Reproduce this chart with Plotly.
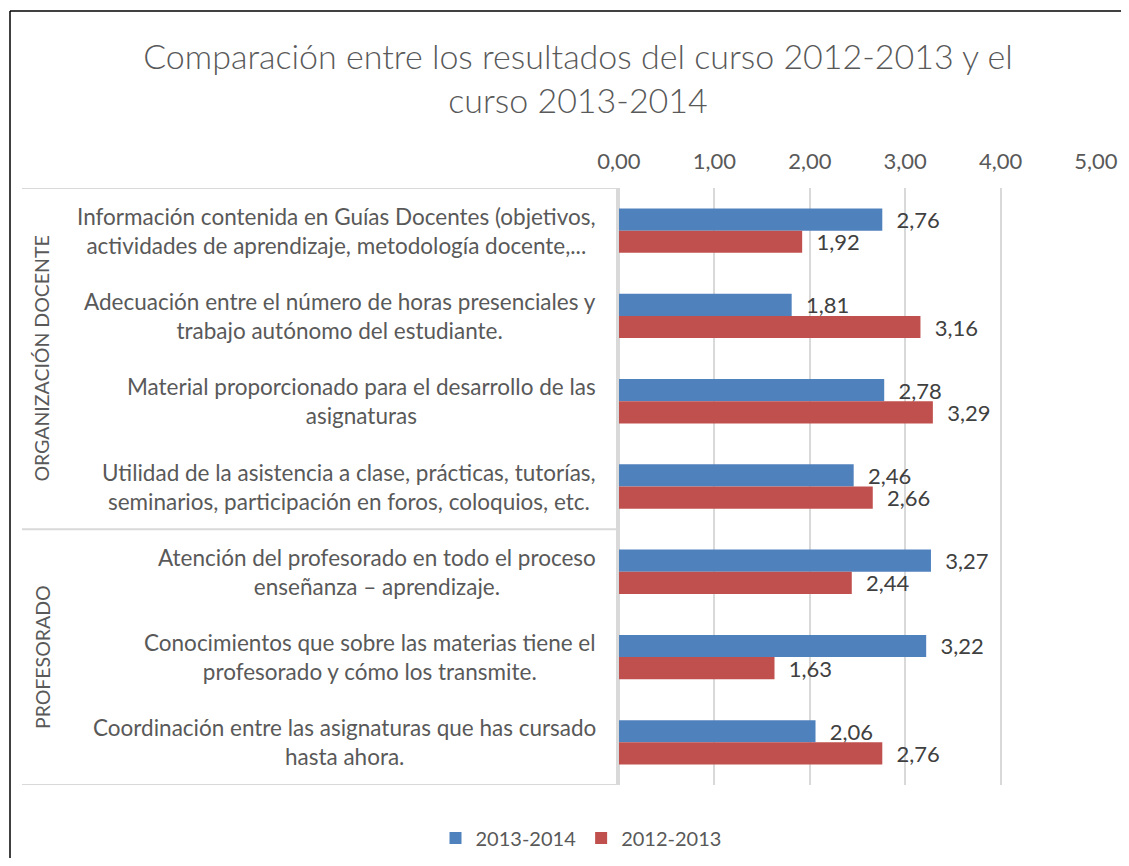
import plotly.graph_objects as go

categories = [
    "Información contenida en Guías Docentes (objetivos,<br>actividades de aprendizaje, metodología docente,...",
    "Adecuación entre el número de horas presenciales y<br>trabajo autónomo del estudiante.",
    "Material proporcionado para el desarrollo de las<br>asignaturas",
    "Utilidad de la asistencia a clase, prácticas, tutorías,<br>seminarios, participación en foros, coloquios, etc.",
    "Atención del profesorado en todo el proceso<br>enseñanza – aprendizaje.",
    "Conocimientos que sobre las materias tiene el<br>profesorado y cómo los transmite.",
    "Coordinación entre las asignaturas que has cursado<br>hasta ahora.",
]
groups = ["ORGANIZACIÓN DOCENTE", "PROFESORADO"]
group_sizes = [4, 3]

curso_1314 = [2.76, 1.81, 2.78, 2.46, 3.27, 3.22, 2.06]
curso_1213 = [1.92, 3.16, 3.29, 2.66, 2.44, 1.63, 2.76]

x_ticks = [0, 1, 2, 3, 4, 5]

BLUE = "#4F81BD"
RED = "#C0504D"
GREY = "#595959"
FONT = "Lato"

# the page has an 8px body margin, so the figure is a bit smaller than the window
OFF = 8
W, H = 1129 - 2 * OFF, 866 - 2 * OFF
# plot area edges as seen on screen
PX0, PX1, PY0, PY1 = 619, 1096, 188, 785
L, R, T, B = PX0 - OFF, W - (PX1 - OFF), PY0 - OFF, H - (PY1 - OFF)
pw = W - L - R
ph = H - T - B


def px_x(x):
    return (x - PX0) / pw


def px_y(y):
    return (PY1 - y) / ph


ids = list(range(len(categories)))

fig = go.Figure()
for vals, name, col in [(curso_1314, "2013-2014", BLUE), (curso_1213, "2012-2013", RED)]:
    fig.add_trace(go.Bar(
        y=ids, x=vals, name=name, orientation="h",
        marker=dict(color=col, line=dict(width=0)),
        texttemplate="\u00a0\u00a0%{x:.2f}", textposition="outside",
        textfont=dict(size=22, color="#404040", family=FONT),
        constraintext="none", cliponaxis=False,
    ))

annotations = []
for i, c in enumerate(categories):
    annotations.append(dict(
        x=px_x(598), xref="paper", y=i, yref="y", text=c,
        xanchor="right", yanchor="middle", align="center", showarrow=False,
        font=dict(size=22.5, color=GREY, family=FONT),
    ))

start = 0
for g, n in zip(groups, group_sizes):
    annotations.append(dict(
        x=px_x(42), xref="paper", y=start + (n - 1) / 2, yref="y", text=g,
        textangle=-90, xanchor="center", yanchor="middle", showarrow=False,
        font=dict(size=19.5, color=GREY, family=FONT),
    ))
    start += n

shapes = []
line_col = "#D9D9D9"
for yv in [-0.5, group_sizes[0] - 0.5, len(categories) - 0.5]:
    shapes.append(dict(type="line", xref="paper", yref="y",
                       x0=px_x(22), x1=px_x(617), y0=yv, y1=yv,
                       line=dict(color=line_col, width=2)))
shapes.append(dict(type="line", xref="paper", yref="y",
                   x0=px_x(617), x1=px_x(617), y0=-0.5, y1=len(categories) - 0.5,
                   line=dict(color=line_col, width=2)))
# outer chart frame (left and top edges; the rest runs off the picture)
fig_right = (W - L) / pw
fig_bottom = -B / ph
shapes.append(dict(type="line", xref="paper", yref="paper",
                   x0=px_x(10), x1=px_x(10), y0=px_y(11), y1=fig_bottom,
                   line=dict(color="black", width=1.5)))
shapes.append(dict(type="line", xref="paper", yref="paper",
                   x0=px_x(10), x1=fig_right, y0=px_y(11), y1=px_y(11),
                   line=dict(color="black", width=1.5)))

fig.update_layout(
    width=W, height=H,
    margin=dict(l=L, r=R, t=T, b=B, autoexpand=False),
    paper_bgcolor="white", plot_bgcolor="white",
    separators=",.",
    font=dict(family=FONT, color=GREY, size=20),
    title=dict(
        text="Comparación entre los resultados del curso 2012-2013 y el<br>curso 2013-2014",
        x=(578 - OFF) / W, xanchor="center", xref="container",
        y=1 - (69 - OFF) / H, yanchor="middle", yref="container",
        font=dict(size=34, color=GREY, family=FONT, weight=300),
    ),
    barmode="group", bargap=0.48, bargroupgap=0,
    xaxis=dict(
        side="top", range=[0, 5], tickvals=x_ticks, tickformat=".2f",
        showgrid=True, gridcolor="#D9D9D9", gridwidth=2,
        zeroline=True, zerolinecolor="#D9D9D9", zerolinewidth=2,
        showline=False, ticks="", ticklabelstandoff=14,
        tickfont=dict(size=22, color=GREY, family=FONT),
        fixedrange=True, automargin=False,
    ),
    yaxis=dict(
        type="linear", range=[len(categories) - 0.5, -0.5],
        showticklabels=False, showgrid=False, zeroline=False, showline=False,
        ticks="", automargin=False,
    ),
    legend=dict(
        orientation="h", xref="container", yref="container",
        x=(581 - OFF) / W, xanchor="center", y=1 - (838 - OFF) / H, yanchor="middle",
        font=dict(size=20, color=GREY, family=FONT),
        traceorder="normal", itemwidth=30,
    ),
    annotations=annotations,
    shapes=shapes,
)

fig.write_html("out.html")
